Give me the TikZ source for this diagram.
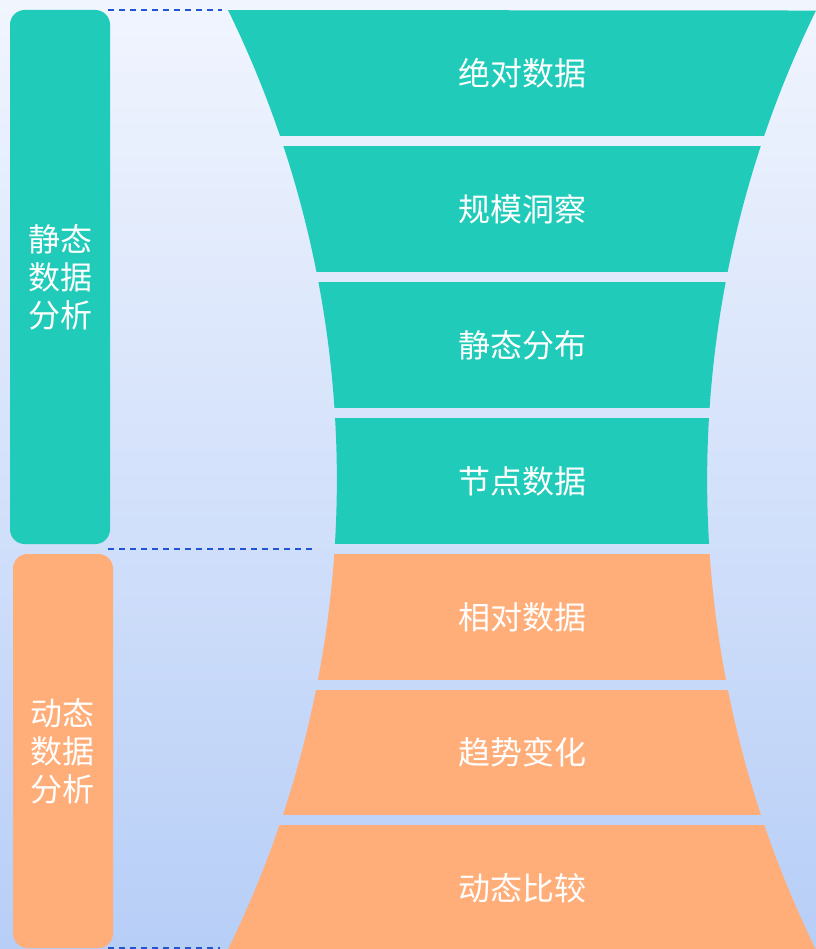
\documentclass[tikz,border=0pt]{standalone}
\usepackage{fontspec}
\newfontfamily\cjk{Noto Sans CJK SC}
\definecolor{bandteal}{RGB}{33,203,185}
\definecolor{bandorange}{RGB}{255,174,121}
\definecolor{bgtop}{RGB}{241,245,254}
\definecolor{bgbottom}{RGB}{183,206,247}
\definecolor{guideblue}{RGB}{34,85,210}
\tikzset{every picture/.style={line width=0.75pt},
  bandlabel/.style={text=white,font=\cjk\fontsize{24}{29}\selectfont,inner sep=0.75pt},
  sidebox/.style={rounded corners=11pt,minimum width=75pt,text=white,align=center,
    font=\cjk\fontsize{24}{28.5}\selectfont,inner sep=0pt},
  guide/.style={draw=guideblue,line width=1.5pt,dash pattern=on 4.5pt off 3.75pt}}

\begin{document}
\begin{tikzpicture}[x=0.75pt,y=0.75pt,yscale=-1,xscale=1]
\useasboundingbox (0,0) rectangle (816,949);

%Background
\shade [top color=bgtop,bottom color=bgbottom] (0,0) rectangle (816,949);

%Shape: Funnel bands
\begin{scope}
\clip (228,10) arc[start angle=-26.1,end angle=26.1,radius=1067.8] -- (816,950)
  arc[start angle=153.9,end angle=206.1,radius=1067.8] -- cycle;
\fill [bandteal] (200,10) rectangle (830,136);
\fill [bandteal] (200,146) rectangle (830,272);
\fill [bandteal] (200,282) rectangle (830,408);
\fill [bandteal] (200,418) rectangle (830,544);
\fill [bandorange] (200,554) rectangle (830,680);
\fill [bandorange] (200,690) rectangle (830,815);
\fill [bandorange] (200,825) rectangle (830,952);
\end{scope}

%Side boxes
\node [sidebox,fill=bandteal,minimum height=400.5pt] (static) at (60,277) {静态\\数据\\分析};
\node [sidebox,fill=bandorange,minimum height=295.5pt] (dynamic) at (63,751) {动态\\数据\\分析};

%Guide lines
\coordinate (gtopA) at (108,10);
\coordinate (gtopB) at (222,10);
\coordinate (gmidA) at (108,549);
\coordinate (gmidB) at (315,549);
\coordinate (gbotA) at (108,948);
\coordinate (gbotB) at (220,948);
\draw [guide] (gtopA) -- (gtopB);
\draw [guide] (gmidA) -- (gmidB);
\draw [guide] (gbotA) -- (gbotB);

% Text Node
\node [bandlabel] (absolute) at (522,73) {绝对数据};
% Text Node
\node [bandlabel] (scale) at (522,209) {规模洞察};
% Text Node
\node [bandlabel] (distribution) at (522,345) {静态分布};
% Text Node
\node [bandlabel] (nodedata) at (522,481) {节点数据};
% Text Node
\node [bandlabel] (relative) at (522,617) {相对数据};
% Text Node
\node [bandlabel] (trend) at (522,752) {趋势变化};
% Text Node
\node [bandlabel] (compare) at (522,888) {动态比较};

\end{tikzpicture}
\end{document}
